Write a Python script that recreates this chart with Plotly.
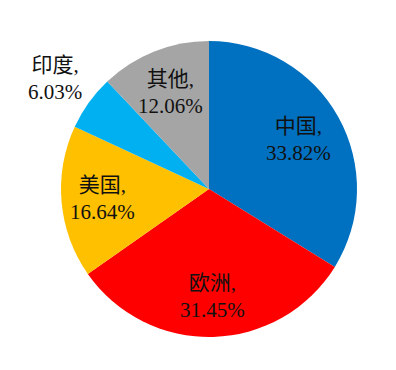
import math
import plotly.graph_objects as go

labels = ["中国", "欧洲", "美国", "印度", "其他"]
values = [33.82, 31.45, 16.64, 6.03, 12.06]
colors = ["#0070C0", "#FF0000", "#FFC000", "#00B0F0", "#A5A5A5"]
label_radius = [0.69, 0.73, 0.72, 1.28, 0.70]

W, H = 396, 370
L, R, T, B = 53, 47, 33, 41

fig = go.Figure(go.Pie(
    labels=labels, values=values, sort=False, direction="clockwise",
    rotation=0, marker=dict(colors=colors, line=dict(width=0)),
    textinfo="none", hoverinfo="label+percent", showlegend=False,
))

total = sum(values)
cum = 0.0
font = dict(family="Liberation Serif, Times New Roman, Noto Sans CJK SC", size=21, color="#111111")
for lab, v, rf in zip(labels, values, label_radius):
    mid = (cum + v / 2) / total * 2 * math.pi
    cum += v
    x = 0.5 + 0.5 * rf * math.sin(mid)
    y = 0.5 + 0.5 * rf * math.cos(mid)
    fig.add_annotation(x=x, y=y, xref="paper", yref="paper", showarrow=False,
                       text=f"{lab},<br>{v:.2f}%", font=font, align="center",
                       xanchor="center", yanchor="middle")

fig.update_layout(width=W, height=H, margin=dict(l=L, r=R, t=T, b=B),
                  paper_bgcolor="white", plot_bgcolor="white")
fig.write_html("out.html")
